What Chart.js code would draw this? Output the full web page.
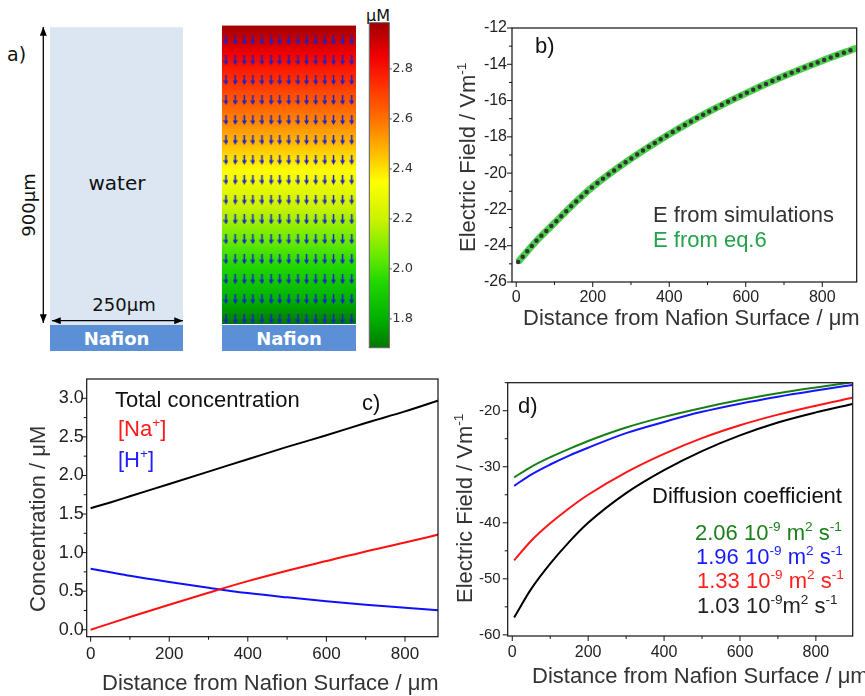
<!DOCTYPE html>
<html>
<head>
<meta charset="utf-8">
<script src="https://cdn.jsdelivr.net/npm/chart.js@4.4.0/dist/chart.umd.min.js"></script>
<style>
  body { margin: 0; background: #fff; width: 865px; height: 696px; position: relative; overflow: hidden; }
  canvas, svg { position: absolute; }
</style>
</head>
<body>
<svg id="schematic" width="420" height="360" style="left:0;top:0" font-family="'DejaVu Sans', Verdana, sans-serif">
  <defs>
    <marker id="head" viewBox="0 0 10 8" refX="10" refY="4" markerWidth="9" markerHeight="7"
            markerUnits="userSpaceOnUse" orient="auto-start-reverse">
      <path d="M0,0 L10,4 L0,8 z" fill="#000"/>
    </marker>
  </defs>
  <rect x="50" y="27.3" width="133" height="297.7" fill="#dce6f2"/>
  <rect x="50" y="325" width="133" height="26" fill="#5b8fd6"/>
  <rect x="222" y="325" width="134" height="26" fill="#5b8fd6"/>
  <line x1="43.3" y1="27" x2="43.3" y2="323" stroke="#000" stroke-width="1.3" marker-start="url(#head)" marker-end="url(#head)"/>
  <line x1="52" y1="320.7" x2="183" y2="320.7" stroke="#000" stroke-width="1.3" marker-start="url(#head)" marker-end="url(#head)"/>
  <text x="117" y="190" font-size="20" text-anchor="middle" fill="#111">water</text>
  <text x="124" y="311" font-size="18" text-anchor="middle" fill="#111">250μm</text>
  <text transform="translate(35,205) rotate(-90)" font-size="18" text-anchor="middle" fill="#111">900μm</text>
  <text x="116.5" y="345" font-size="18" font-weight="bold" text-anchor="middle" fill="#fff">Nafion</text>
  <text x="289" y="345" font-size="18" font-weight="bold" text-anchor="middle" fill="#fff">Nafion</text>
  <text x="7" y="61" font-size="19" fill="#111">a)</text>
  <text x="366" y="21" font-size="16" fill="#111">μM</text>
</svg>
<canvas id="fieldChart" width="170" height="360" style="left:200px;top:0"></canvas>
<canvas id="barChart" width="60" height="360" style="left:360px;top:0"></canvas>
<canvas id="chartB" width="445" height="340" style="left:420px;top:0"></canvas>
<canvas id="chartC" width="440" height="336" style="left:0;top:360px"></canvas>
<canvas id="chartD" width="425" height="336" style="left:440px;top:360px"></canvas>
<script>
// ---- panel a: concentration field (µM) and colour bar
const fieldWidth = [0, 250];          // µm
const fieldHeight = [0, 900];         // µm
const fieldConc = [1.70, 2.97];       // µM at bottom / top
const arrowCols = [8, 25, 42, 58, 75, 92, 108, 125, 142, 158, 175, 192, 208, 225, 242];
const arrowRows = [15, 75, 135, 195, 255, 315, 375, 435, 495, 555, 615, 675, 735, 795, 855];
const cbRange = [1.685, 2.985];
const cbTicks = [1.8, 2.0, 2.2, 2.4, 2.6, 2.8];
const cmapValues = [1.685, 1.80, 1.95, 2.05, 2.20, 2.35, 2.45, 2.60, 2.75, 2.85, 2.985];
const cmapColors = ['#007800', '#00b000', '#22d800', '#66ea00', '#ccf200', '#ffff00',
                    '#ffc400', '#ff7000', '#ff2800', '#f00000', '#a00000'];

// ---- panel b: electric field vs distance
const bDist = [5, 50, 100, 150, 200, 300, 400, 500, 600, 700, 800, 890];
const bFieldSim = [-24.9, -23.8, -22.75, -21.7, -20.75, -19.2, -17.85, -16.65, -15.6, -14.65, -13.8, -13.1];
const bFieldEq6 = [-24.9, -23.8, -22.75, -21.7, -20.75, -19.2, -17.85, -16.65, -15.6, -14.65, -13.8, -13.1];
const bXRange = [-11, 890], bYRange = [-26, -12];
const bXTicks = [0, 200, 400, 600, 800], bXMinor = [100, 300, 500, 700];
const bYTicks = [-26, -24, -22, -20, -18, -16, -14, -12], bYMinor = [-25, -23, -21, -19, -17, -15, -13];

// ---- panel c: concentrations
const cDist = [0, 50, 100, 200, 300, 400, 500, 600, 700, 800, 890];
const cTotal = [1.575, 1.65, 1.73, 1.89, 2.05, 2.21, 2.37, 2.52, 2.68, 2.83, 2.98];
const cNa = [0, 0.083, 0.165, 0.325, 0.48, 0.63, 0.765, 0.89, 1.015, 1.13, 1.24];
const cH = [0.79, 0.745, 0.70, 0.62, 0.545, 0.475, 0.42, 0.37, 0.325, 0.285, 0.25];
const cXRange = [-10, 884], cYRange = [-0.09, 3.25];
const cXTicks = [0, 200, 400, 600, 800], cXMinor = [100, 300, 500, 700];
const cYTicks = [0, 0.5, 1.0, 1.5, 2.0, 2.5, 3.0], cYMinor = [0.25, 0.75, 1.25, 1.75, 2.25, 2.75];

// ---- panel d: electric field for several diffusion coefficients
const dDist = [5, 50, 100, 150, 200, 300, 400, 500, 600, 700, 800, 896];
const dField206 = [-31.9, -30.0, -28.3, -26.8, -25.4, -23.0, -21.1, -19.5, -18.1, -16.9, -15.85, -14.9];
const dField196 = [-33.4, -31.4, -29.6, -28.0, -26.6, -24.0, -22.0, -20.2, -18.75, -17.5, -16.4, -15.4];
const dField133 = [-46.7, -43.2, -40.1, -37.4, -35.0, -31.0, -27.7, -24.9, -22.6, -20.7, -19.1, -17.7];
const dField103 = [-56.9, -51.8, -47.3, -43.4, -40.0, -34.7, -30.6, -27.2, -24.4, -22.1, -20.3, -18.8];
const dXRange = [-12, 897], dYRange = [-60.2, -15];
const dXTicks = [0, 200, 400, 600, 800], dXMinor = [100, 300, 500, 700];
const dYTicks = [-60, -50, -40, -30, -20], dYMinor = [-55, -45, -35, -25, -15];

const plotFont = '"Liberation Sans", Arial, sans-serif';
Chart.defaults.animation = false;
Chart.defaults.responsive = false;
Chart.defaults.events = [];
Chart.defaults.font.family = plotFont;
Chart.defaults.plugins.legend.display = false;
Chart.defaults.plugins.tooltip.enabled = false;

const pts = (xs, ys) => xs.map((x, i) => ({ x: x, y: ys[i] }));

// text with superscripts: plain strings, or [string] for a superscript
function drawRich(ctx, t, origin) {
  ctx.save();
  ctx.translate(t.x - origin[0], t.y - origin[1]);
  if (t.rot) ctx.rotate(t.rot * Math.PI / 180);
  ctx.fillStyle = t.color || '#222';
  ctx.textAlign = 'left';
  ctx.textBaseline = 'alphabetic';
  let cx = 0;
  t.parts.forEach(p => {
    const sup = Array.isArray(p);
    const s = sup ? p[0] : p;
    const size = sup ? t.size * 0.62 : t.size;
    ctx.font = size + 'px ' + plotFont;
    ctx.fillText(s, cx, sup ? -t.size * 0.42 : 0);
    cx += ctx.measureText(s).width;
  });
  ctx.restore();
}

// frame, major/minor tick marks and free text
function figPlugin(spec) {
  return {
    id: 'fig' + spec.name,
    afterDraw(chart) {
      const c = chart.ctx, a = chart.chartArea;
      const xs = chart.scales.x, ys = chart.scales.y;
      c.save();
      c.strokeStyle = '#111';
      c.lineWidth = 1.2;
      c.strokeRect(a.left, a.top, a.right - a.left, a.bottom - a.top);
      c.lineWidth = 1;
      c.beginPath();
      const xt = (list, len) => list.forEach(v => {
        const p = xs.getPixelForValue(v); c.moveTo(p, a.bottom); c.lineTo(p, a.bottom + len);
      });
      const yt = (list, len) => list.forEach(v => {
        const p = ys.getPixelForValue(v); c.moveTo(a.left - len, p); c.lineTo(a.left, p);
      });
      xt(spec.xMajor, 5); xt(spec.xMinor, 3);
      yt(spec.yMajor, 5); yt(spec.yMinor, 3);
      c.stroke();
      spec.texts.forEach(t => drawRich(c, t, spec.origin));
      c.restore();
    }
  };
}

function axis(range, ticks, size, pad, fit, horiz, fmt) {
  return {
    type: 'linear', min: range[0], max: range[1],
    afterBuildTicks: s => { s.ticks = ticks.map(v => ({ value: v })); },
    afterFit: s => { if (horiz) s.height = fit; else s.width = fit; },
    grid: { display: false, drawTicks: false },
    border: { display: false },
    ticks: { padding: pad, color: '#222', font: { size: size }, maxRotation: 0, autoSkip: false,
             callback: fmt || (v => String(v)) }
  };
}

function line(data, color, width, extra) {
  return Object.assign({ data: data, borderColor: color, borderWidth: width, pointRadius: 0,
    cubicInterpolationMode: 'monotone', fill: false, clip: 0 }, extra || {});
}

// ---------- panel a charts
const arrowImg = document.createElement('canvas');
arrowImg.width = 5; arrowImg.height = 10;
(function () {
  const ac = arrowImg.getContext('2d');
  ac.strokeStyle = '#1a22cc'; ac.fillStyle = '#1a22cc'; ac.lineWidth = 1.5;
  ac.beginPath(); ac.moveTo(2.5, 0); ac.lineTo(2.5, 7); ac.stroke();
  ac.beginPath(); ac.moveTo(0, 5.5); ac.lineTo(5, 5.5); ac.lineTo(2.5, 10); ac.closePath(); ac.fill();
})();

function cmapGradient(ctx, yPix0, yPix1, v0, v1) {
  const g = ctx.createLinearGradient(0, yPix0, 0, yPix1);
  cmapValues.forEach((v, i) => {
    const f = Math.min(1, Math.max(0, (v - v0) / (v1 - v0)));
    g.addColorStop(f, cmapColors[i]);
  });
  return g;
}

const arrowPts = [];
arrowRows.forEach(y => arrowCols.forEach(x => arrowPts.push({ x: x, y: y })));

new Chart(document.getElementById('fieldChart'), {
  type: 'line',
  data: {
    datasets: [
      { data: arrowPts, showLine: false, pointStyle: arrowImg, pointRadius: 3, clip: false },
      { data: [{ x: fieldWidth[0], y: fieldHeight[1] }, { x: fieldWidth[1], y: fieldHeight[1] }],
        pointRadius: 0, borderWidth: 0, fill: 'start',
        backgroundColor: ctx => {
          const ys = ctx.chart.scales.y;
          if (!ctx.chart.chartArea || !ys) return 'rgba(0,0,0,0)';
          return cmapGradient(ctx.chart.ctx, ys.getPixelForValue(fieldHeight[0]),
            ys.getPixelForValue(fieldHeight[1]), fieldConc[0], fieldConc[1]);
        } }
    ]
  },
  options: {
    layout: { padding: { left: 21.7, right: 14, top: 25.3, bottom: 36 } },
    scales: {
      x: { type: 'linear', min: fieldWidth[0], max: fieldWidth[1], display: false },
      y: { type: 'linear', min: fieldHeight[0], max: fieldHeight[1], display: false }
    }
  }
});

new Chart(document.getElementById('barChart'), {
  type: 'line',
  data: {
    datasets: [
      { data: [{ x: 0, y: cbRange[1] }, { x: 1, y: cbRange[1] }], pointRadius: 0, borderWidth: 0, fill: 'start',
        backgroundColor: ctx => {
          const ys = ctx.chart.scales.y;
          if (!ctx.chart.chartArea || !ys) return 'rgba(0,0,0,0)';
          return cmapGradient(ctx.chart.ctx, ys.getPixelForValue(cbRange[0]),
            ys.getPixelForValue(cbRange[1]), cbRange[0], cbRange[1]);
        } }
    ]
  },
  options: {
    layout: { padding: { left: 9.3, right: 0, top: 22.7, bottom: 12.3 } },
    scales: {
      x: { type: 'linear', min: 0, max: 1, display: false },
      y: { type: 'linear', position: 'right', min: cbRange[0], max: cbRange[1],
           afterBuildTicks: s => { s.ticks = cbTicks.map(v => ({ value: v })); },
           afterFit: s => { s.width = 30.7; },
           grid: { display: false, drawTicks: false }, border: { display: false },
           ticks: { padding: 3, color: '#333', font: { size: 13, family: '"DejaVu Sans", Verdana, sans-serif' },
                    callback: v => v.toFixed(1) } }
    }
  },
  plugins: [{
    id: 'cbFrame',
    afterDraw(chart) {
      const c = chart.ctx, a = chart.chartArea, ys = chart.scales.y;
      c.save();
      c.strokeStyle = '#555'; c.lineWidth = 1;
      c.strokeRect(a.left, a.top, a.right - a.left, a.bottom - a.top);
      c.beginPath();
      cbTicks.forEach(v => { const p = ys.getPixelForValue(v); c.moveTo(a.right, p); c.lineTo(a.right + 2.5, p); });
      c.stroke();
      c.restore();
    }
  }]
});

// ---------- panel b
new Chart(document.getElementById('chartB'), {
  type: 'line',
  data: {
    datasets: [
      line(pts(bDist, bFieldSim), '#333', 4.5, { borderDash: [0, 7], borderCapStyle: 'round' }),
      line(pts(bDist, bFieldEq6), '#4ccf4c', 7)
    ]
  },
  options: {
    layout: { padding: { left: 0, top: 28, right: 8.3, bottom: 0 } },
    scales: {
      x: axis(bXRange, bXTicks, 16, 6, 58, true),
      y: axis(bYRange, bYTicks, 16, 5, 92, false)
    }
  },
  plugins: [figPlugin({
    name: 'B', origin: [420, 0],
    xMajor: bXTicks, xMinor: bXMinor, yMajor: bYTicks, yMinor: bYMinor,
    texts: [
      { x: 535, y: 53, size: 22, color: '#111', parts: ['b)'] },
      { x: 653, y: 222, size: 22, color: '#333', parts: ['E from simulations'] },
      { x: 653, y: 247, size: 22, color: '#22a24a', parts: ['E from eq.6'] },
      { x: 475, y: 252, rot: -90, size: 22, color: '#333', parts: ['Electric Field / Vm', ['-1']] },
      { x: 523, y: 325, size: 22, color: '#333', parts: ['Distance from Nafion Surface / μm'] }
    ]
  })]
});

// ---------- panel c
new Chart(document.getElementById('chartC'), {
  type: 'line',
  data: {
    datasets: [
      line(pts(cDist, cTotal), '#000', 2),
      line(pts(cDist, cNa), '#ff1010', 2),
      line(pts(cDist, cH), '#1010ff', 2)
    ]
  },
  options: {
    layout: { padding: { left: 0, top: 19, right: 2, bottom: 0 } },
    scales: {
      x: axis(cXRange, cXTicks, 17, 7, 59.3, true),
      y: axis(cYRange, cYTicks, 18, 3, 86.7, false, v => v.toFixed(1))
    }
  },
  plugins: [figPlugin({
    name: 'C', origin: [0, 360],
    xMajor: cXTicks, xMinor: cXMinor, yMajor: cYTicks, yMinor: cYMinor,
    texts: [
      { x: 115, y: 407, size: 22, color: '#111', parts: ['Total concentration'] },
      { x: 118, y: 436, size: 22, color: '#ff1a1a', parts: ['[Na', ['+'], ']'] },
      { x: 118, y: 467, size: 22, color: '#2020ff', parts: ['[H', ['+'], ']'] },
      { x: 362, y: 410, size: 22, color: '#111', parts: ['c)'] },
      { x: 45, y: 612, rot: -90, size: 22, color: '#333', parts: ['Concentration / μM'] },
      { x: 102, y: 690, size: 22, color: '#333', parts: ['Distance from Nafion Surface / μm'] }
    ]
  })]
});

// ---------- panel d
new Chart(document.getElementById('chartD'), {
  type: 'line',
  data: {
    datasets: [
      line(pts(dDist, dField206), '#168016', 2),
      line(pts(dDist, dField196), '#1515ff', 2),
      line(pts(dDist, dField133), '#ff1515', 2),
      line(pts(dDist, dField103), '#000', 2)
    ]
  },
  options: {
    layout: { padding: { left: 0, top: 22.7, right: 12.3, bottom: 0 } },
    scales: {
      x: axis(dXRange, dXTicks, 16, 7, 60, true),
      y: axis(dYRange, dYTicks, 15, 7, 67.7, false)
    }
  },
  plugins: [figPlugin({
    name: 'D', origin: [440, 360],
    xMajor: dXTicks, xMinor: dXMinor, yMajor: dYTicks, yMinor: dYMinor,
    texts: [
      { x: 518, y: 413, size: 22, color: '#111', parts: ['d)'] },
      { x: 652, y: 503, size: 22, color: '#111', parts: ['Diffusion coefficient'] },
      { x: 695, y: 540, size: 22, color: '#1a801a', parts: ['2.06 10', ['-9'], ' m', ['2'], ' s', ['-1']] },
      { x: 696, y: 564, size: 22, color: '#1a1aff', parts: ['1.96 10', ['-9'], ' m', ['2'], ' s', ['-1']] },
      { x: 697, y: 588, size: 22, color: '#ff2020', parts: ['1.33 10', ['-9'], ' m', ['2'], ' s', ['-1']] },
      { x: 697, y: 613, size: 22, color: '#222', parts: ['1.03 10', ['-9'], 'm', ['2'], ' s', ['-1']] },
      { x: 472, y: 603, rot: -90, size: 22, color: '#333', parts: ['Electric Field / Vm', ['-1']] },
      { x: 532, y: 683, size: 22, color: '#333', parts: ['Distance from Nafion Surface / μm'] }
    ]
  })]
});
</script>
</body>
</html>
